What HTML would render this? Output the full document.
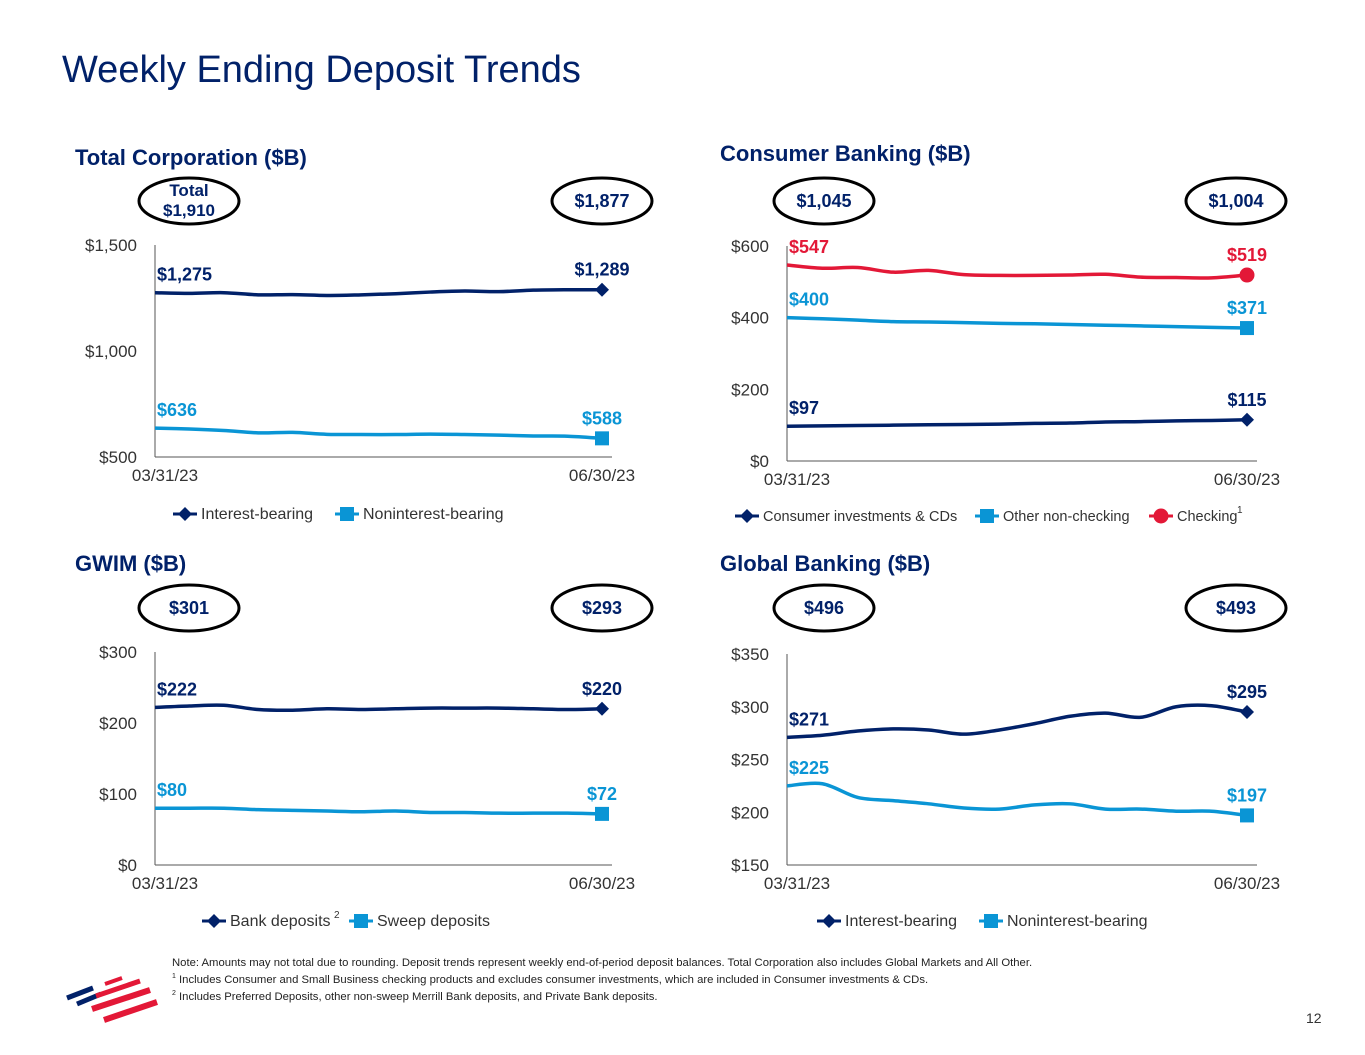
<!DOCTYPE html>
<html><head><meta charset="utf-8">
<style>
html,body{margin:0;padding:0;background:#fff;}
body{width:1365px;height:1055px;position:relative;overflow:hidden;font-family:"Liberation Sans",sans-serif;}
.abs{position:absolute;}
</style></head>
<body>
<div class="abs" style="left:62px;top:49px;font-size:38px;color:#012169;">Weekly Ending Deposit Trends</div>
<svg id="svg" class="abs" style="left:0;top:0" width="1365" height="1055"></svg>
<div class="abs" style="left:172px;top:956px;font-size:11.3px;line-height:14px;color:#222;">
Note: Amounts may not total due to rounding. Deposit trends represent weekly end-of-period deposit balances. Total Corporation also includes Global Markets and All Other.<br>
<sup style="font-size:7px">1</sup> Includes Consumer and Small Business checking products and excludes consumer investments, which are included in Consumer investments &amp; CDs.<br>
<sup style="font-size:7px">2</sup> Includes Preferred Deposits, other non-sweep Merrill Bank deposits, and Private Bank deposits.</div>
<div class="abs" style="left:1306px;top:1010px;font-size:14px;color:#333;">12</div>
<svg class="abs" style="left:0;top:0" width="200" height="1055">
<g stroke-linecap="butt">
<line x1="67" y1="998" x2="93" y2="988" stroke="#012169" stroke-width="5"/>
<line x1="77" y1="1004" x2="101" y2="994" stroke="#012169" stroke-width="5"/>
<line x1="105" y1="984" x2="122" y2="978" stroke="#e31837" stroke-width="4"/>
<line x1="96" y1="996" x2="140" y2="981" stroke="#e31837" stroke-width="5"/>
<line x1="92" y1="1009" x2="150" y2="990" stroke="#e31837" stroke-width="6"/>
<line x1="104" y1="1020" x2="157" y2="1002" stroke="#e31837" stroke-width="6"/>
</g></svg>
<script>
// Total Corporation
const tcInterest=[1275,1272,1275,1265,1266,1262,1265,1270,1278,1283,1280,1287,1289,1289];
const tcNonint=[636,632,625,614,616,607,606,606,608,606,603,599,598,588];
const tcTicks=["$500","$1,000","$1,500"];
const tcTickVals=[500,1000,1500];
// Consumer
const cbChecking=[547,538,540,527,532,520,518,518,519,521,513,512,511,519];
const cbOther=[400,397,393,389,388,386,384,383,381,379,377,375,373,371];
const cbInvest=[97,98,99,100,101,102,103,105,106,109,110,112,113,115];
const cbTicks=["$0","$200","$400","$600"];
const cbTickVals=[0,200,400,600];
// GWIM
const gwBank=[222,224,225,219,218,220,219,220,221,221,221,220,219,220];
const gwSweep=[80,80,80,78,77,76,75,76,74,74,73,73,73,72];
const gwTicks=["$0","$100","$200","$300"];
const gwTickVals=[0,100,200,300];
// Global Banking
const gbInterest=[271,273,277,279,278,274,278,284,291,294,290,300,301,295];
const gbNonint=[225,227,214,211,208,204,203,207,208,203,203,201,201,197];
const gbTicks=["$150","$200","$250","$300","$350"];
const gbTickVals=[150,200,250,300,350];
const xLabels=["03/31/23","06/30/23"];

const NS="http://www.w3.org/2000/svg",svg=document.getElementById('svg');
const NAVY="#012169",BLUE="#0a95d5",RED="#e31837";
function mk(t,a,p){const e=document.createElementNS(NS,t);for(const k in a)e.setAttribute(k,a[k]);(p||svg).appendChild(e);return e;}
function txt(x,y,s,a,p){const e=mk('text',Object.assign({x:x,y:y,'font-family':'Liberation Sans, sans-serif'},a),p);e.textContent=s;return e;}
function smooth(pts){let d=`M${pts[0][0]},${pts[0][1]}`;for(let i=0;i<pts.length-1;i++){const p0=pts[i-1]||pts[i],p1=pts[i],p2=pts[i+1],p3=pts[i+2]||p2;
d+=` C${p1[0]+(p2[0]-p0[0])/6},${p1[1]+(p2[1]-p0[1])/6} ${p2[0]-(p3[0]-p1[0])/6},${p2[1]-(p3[1]-p1[1])/6} ${p2[0]},${p2[1]}`;}return d;}
function marker(kind,x,y,c,g){
 if(kind==='d')mk('path',{d:`M${x},${y-7}L${x+7},${y}L${x},${y+7}L${x-7},${y}Z`,fill:c},g);
 else if(kind==='s')mk('rect',{x:x-7,y:y-7,width:14,height:14,fill:c},g);
 else mk('circle',{cx:x,cy:y,r:7.5,fill:c},g);}
function fmt(v){return '$'+v.toLocaleString('en-US');}
function chart(c){
 const g=mk('g',{});
 const ys=v=>c.y1+(c.vMax-v)/(c.vMax-c.vMin)*(c.y0-c.y1);
 const xs=i=>c.x0+i*(c.x1-c.x0)/13;
 mk('line',{x1:c.x0,y1:c.y1,x2:c.x0,y2:c.y0,stroke:'#555','stroke-width':1},g);
 mk('line',{x1:c.x0,y1:c.y0,x2:c.x1+10,y2:c.y0,stroke:'#555','stroke-width':1},g);
 c.tickVals.forEach((v,i)=>{const t=txt(c.x0-18,ys(v)+6,c.ticks[i],{'font-size':17,fill:'#333','text-anchor':'end'},g);});
 txt(c.x0+10,c.y0+24,xLabels[0],{'font-size':17,fill:'#333','text-anchor':'middle'},g);
 txt(c.x1,c.y0+24,xLabels[1],{'font-size':17,fill:'#333','text-anchor':'middle'},g);
 c.series.forEach(s=>{
  const pts=s.data.map((v,i)=>[xs(i),ys(v)]);
  const p=mk('path',{d:smooth(pts),fill:'none',stroke:s.color,'stroke-width':3.5},g);
  
  marker(s.kind,pts[13][0],pts[13][1],s.color,g);
  const a=txt(c.x0+2,pts[0][1]-12,fmt(s.data[0]),{'font-size':18,'font-weight':'bold',fill:s.color},g);
  
  const b=txt(c.x1,pts[13][1]-14,fmt(s.data[13]),{'font-size':18,'font-weight':'bold',fill:s.color,'text-anchor':'middle'},g);
  
 });
}
chart({name:'total-corporation-chart',x0:155,x1:602,y0:457,y1:245,vMin:500,vMax:1500,ticks:tcTicks,tickVals:tcTickVals,
 series:[{data:tcInterest,color:NAVY,kind:'d',sname:'interest-bearing'},{data:tcNonint,color:BLUE,kind:'s',sname:'noninterest-bearing'}]});
chart({name:'consumer-banking-chart',x0:787,x1:1247,y0:461,y1:246,vMin:0,vMax:600,ticks:cbTicks,tickVals:cbTickVals,
 series:[{data:cbChecking,color:RED,kind:'c',sname:'checking'},{data:cbOther,color:BLUE,kind:'s',sname:'other-non-checking'},{data:cbInvest,color:NAVY,kind:'d',sname:'consumer-investments'}]});
chart({name:'gwim-chart',x0:155,x1:602,y0:865,y1:652,vMin:0,vMax:300,ticks:gwTicks,tickVals:gwTickVals,
 series:[{data:gwBank,color:NAVY,kind:'d',sname:'bank-deposits'},{data:gwSweep,color:BLUE,kind:'s',sname:'sweep-deposits'}]});
chart({name:'global-banking-chart',x0:787,x1:1247,y0:865,y1:654,vMin:150,vMax:350,ticks:gbTicks,tickVals:gbTickVals,
 series:[{data:gbInterest,color:NAVY,kind:'d',sname:'interest-bearing'},{data:gbNonint,color:BLUE,kind:'s',sname:'noninterest-bearing'}]});

[["Total Corporation ($B)",75,165,'title-total-corporation'],["Consumer Banking ($B)",720,161,'title-consumer-banking'],["GWIM ($B)",75,571,'title-gwim'],["Global Banking ($B)",720,571,'title-global-banking']].forEach(t=>{
 const e=txt(t[1],t[2],t[0],{'font-size':22,'font-weight':'bold',fill:NAVY});});
function oval(cx,cy,lines,name){const g=mk('g',{});
 mk('ellipse',{cx:cx,cy:cy,rx:50,ry:23,fill:'#fff',stroke:'#000','stroke-width':3},g);
 if(lines.length===1)txt(cx,cy+6,lines[0],{'font-size':18,'font-weight':'bold',fill:NAVY,'text-anchor':'middle'},g);
 else{txt(cx,cy-5,lines[0],{'font-size':17,'font-weight':'bold',fill:NAVY,'text-anchor':'middle'},g);txt(cx,cy+15,lines[1],{'font-size':17,'font-weight':'bold',fill:NAVY,'text-anchor':'middle'},g);}}
oval(189,201,["Total","$1,910"],'oval-total-start');oval(602,201,["$1,877"],'oval-total-end');
oval(824,201,["$1,045"],'oval-consumer-start');oval(1236,201,["$1,004"],'oval-consumer-end');
oval(189,608,["$301"],'oval-gwim-start');oval(602,608,["$293"],'oval-gwim-end');
oval(824,608,["$496"],'oval-global-start');oval(1236,608,["$493"],'oval-global-end');
function legend(items,y,fs){items.forEach(it=>{const g=mk('g',{});
 mk('line',{x1:it[0]-12,y1:y,x2:it[0]+12,y2:y,stroke:it[2],'stroke-width':3},g);marker(it[4],it[0],y,it[2],g);
 txt(it[0]+16,y+5,it[1],{'font-size':fs,fill:'#333'},g);
 if(it[5]){const s=txt(0,0,it[5],{'font-size':10,fill:'#333'},g);s.setAttribute('x',it[0]+16+it[6]);s.setAttribute('y',y-3);}});}
legend([[185,"Interest-bearing",NAVY,'interest-bearing','d'],[347,"Noninterest-bearing",BLUE,'noninterest-bearing','s']],514,16);
legend([[747,"Consumer investments & CDs",NAVY,'consumer-investments','d'],[987,"Other non-checking",BLUE,'other-non-checking','s'],[1161,"Checking",RED,'checking','c',"1",60]],516,14.5);
legend([[214,"Bank deposits",NAVY,'bank-deposits','d',"2",104],[361,"Sweep deposits",BLUE,'sweep-deposits','s']],921,16);
legend([[829,"Interest-bearing",NAVY,'interest-bearing-gb','d'],[991,"Noninterest-bearing",BLUE,'noninterest-bearing-gb','s']],921,16);
</script>
</body></html>
